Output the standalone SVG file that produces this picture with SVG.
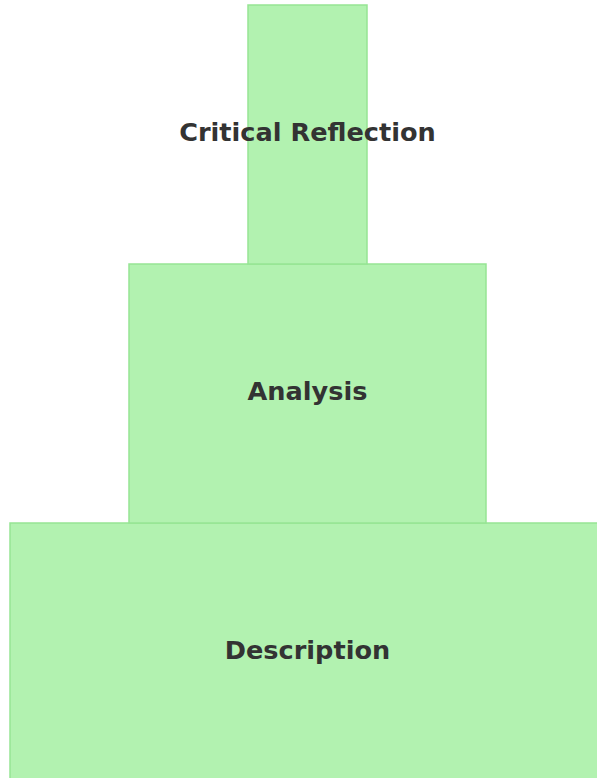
<svg xmlns="http://www.w3.org/2000/svg" width="597" height="778" viewBox="0 0 597 778">
<style>
.lvl{fill:#b2f2b0;stroke:#96e594;stroke-width:1.5}
.lbl{font-family:"DejaVu Sans",sans-serif;font-weight:bold;font-size:25.6px;fill:#333;text-anchor:middle}
</style>
<rect width="597" height="778" fill="#fff"/>
<g id="connectors"></g>
<g id="description"><rect class="lvl" x="10" y="523" width="595" height="259"/><text class="lbl" x="307.5" y="659">Description</text></g>
<g id="analysis"><rect class="lvl" x="129" y="264" width="357" height="259"/><text class="lbl" x="307.5" y="400">Analysis</text></g>
<g id="critical-reflection"><rect class="lvl" x="248" y="5" width="119" height="259"/><text class="lbl" x="307.5" y="141">Critical Reflection</text></g>
</svg>
